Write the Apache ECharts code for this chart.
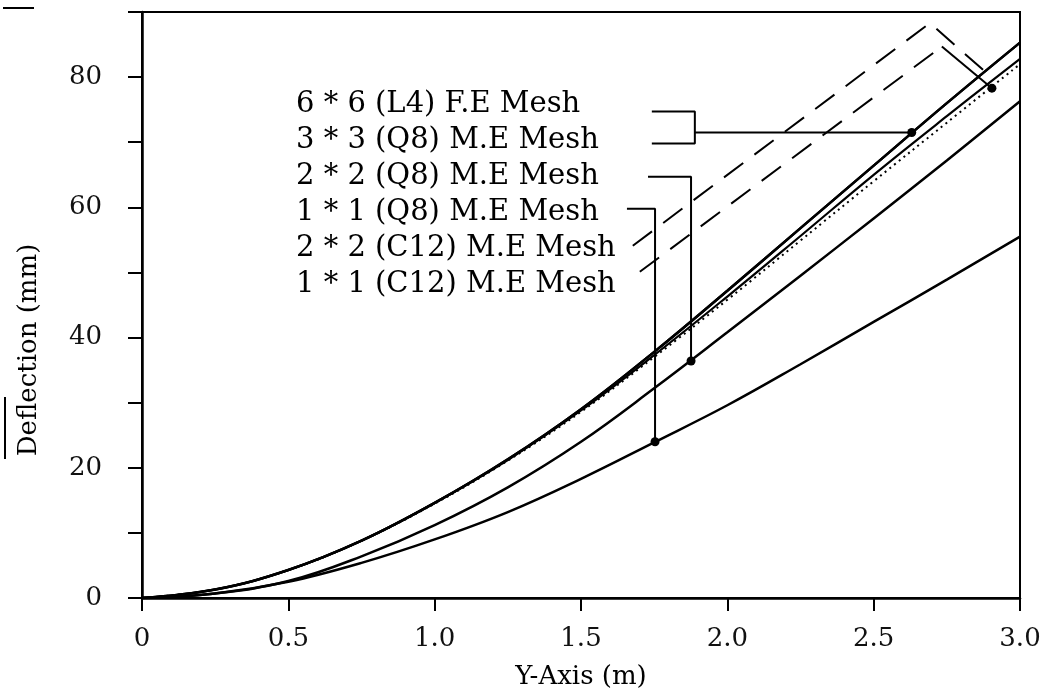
<!DOCTYPE html>
<html>
<head>
<meta charset="utf-8">
<script src="https://cdn.jsdelivr.net/npm/echarts@6/dist/echarts.min.js"></script>
<style>
html, body { margin: 0; padding: 0; background: #fff; }
#myChart { width: 1050px; height: 692px; }
</style>
</head>
<body>
<div id="myChart"></div>
<script>
// Y-Axis (m) sample positions
const yPos = [0, 0.25, 0.5, 0.75, 1.0, 1.25, 1.5, 1.75, 2.0, 2.25, 2.5, 2.75, 3.0];

// deflection (mm)
const fe66L4  = [0, 1.3, 4.3, 8.8, 14.6, 21.3, 29.0, 37.8, 47.2, 56.8, 66.4, 76.0, 85.3];
const me33Q8  = [0, 1.3, 4.3, 8.8, 14.6, 21.3, 29.0, 37.8, 47.2, 56.8, 66.4, 76.0, 85.3];
const me22Q8  = [0, 0.7, 2.6, 6.4, 11.2, 17.0, 24.0, 32.2, 40.8, 49.5, 58.3, 67.2, 76.3];
const me11Q8  = [0, 0.7, 2.5, 5.4, 9.0, 13.2, 18.3, 23.9, 29.6, 35.9, 42.4, 48.9, 55.5];
const me22C12 = [0, 1.3, 4.3, 8.8, 14.6, 21.2, 28.8, 37.3, 46.3, 55.6, 65.0, 74.0, 82.8];
const me11C12 = [0, 1.3, 4.3, 8.8, 14.5, 21.1, 28.6, 37.0, 45.8, 54.9, 64.0, 73.0, 82.0];

const seriesNames = [
  "6 * 6 (L4) F.E Mesh",
  "3 * 3 (Q8) M.E Mesh",
  "2 * 2 (Q8) M.E Mesh",
  "1 * 1 (Q8) M.E Mesh",
  "2 * 2 (C12) M.E Mesh",
  "1 * 1 (C12) M.E Mesh"
];

// tick labels
const xTickLabels = ["0", "0.5", "1.0", "1.5", "2.0", "2.5", "3.0"];
const yTickLabels = ["0", "", "20", "", "40", "", "60", "", "80", ""];

// leader lines from the labels to the curves (data units)
const bracket66   = [[1.742, 74.7], [1.889, 74.7], [1.889, 69.8], [1.742, 69.8]];
const leader66    = [[1.889, 71.5], [2.63, 71.5]];
const leader22Q8  = [[1.729, 64.7], [1.876, 64.7], [1.876, 36.4]];
const leader11Q8  = [[1.657, 59.8], [1.753, 59.8], [1.753, 24.0]];
const leader22C12 = [[1.677, 54.1], [2.692, 88.3], [2.887, 80.6]];
const leader11C12a = [[1.701, 50.1], [2.733, 84.7]];
const leader11C12b = [[2.733, 84.7], [2.904, 78.3]];

const FONT = "DejaVu Serif";

function pairs(xs, vals) {
  return xs.map((x, i) => [x, vals[i]]);
}

function curve(name, vals, type, width) {
  return {
    name: name,
    type: "line",
    data: pairs(yPos, vals),
    smooth: 0.4,
    symbol: "none",
    silent: true,
    z: 3,
    lineStyle: { color: "#000", width: width, type: type }
  };
}

function leader(id, pts, type, dot) {
  return {
    name: id,
    type: "line",
    data: pts.map((p, i) => {
      if (dot && i === pts.length - 1) {
        return { value: p, symbol: "circle", symbolSize: 9 };
      }
      return { value: p, symbol: "none" };
    }),
    showSymbol: true,
    silent: true,
    z: 4,
    itemStyle: { color: "#000" },
    lineStyle: { color: "#000", width: 2, type: type }
  };
}

let myChart = echarts.init(document.getElementById("myChart"));
myChart.setOption({
  animation: false,
  backgroundColor: "#fff",
  grid: {
    left: 142,
    right: 30,
    top: 12,
    bottom: 94,
    outerBoundsMode: "none",
    show: true,
    borderColor: "#000",
    borderWidth: 2
  },
  legend: {
    data: seriesNames,
    orient: "vertical",
    left: 290,
    top: 86,
    padding: 0,
    itemWidth: 0,
    itemHeight: 0,
    itemGap: 0,
    selectedMode: false,
    textStyle: { fontFamily: FONT, fontSize: 29, color: "#000", lineHeight: 36 }
  },
  xAxis: {
    type: "value",
    min: 0,
    max: 3,
    interval: 0.5,
    name: "Y-Axis (m)",
    nameLocation: "middle",
    nameGap: 66,
    nameTextStyle: { fontFamily: FONT, fontSize: 26, color: "#000" },
    axisLine: { lineStyle: { color: "#000", width: 2.5 } },
    axisTick: { length: 13, lineStyle: { color: "#000", width: 2 } },
    axisLabel: {
      margin: 28,
      fontFamily: FONT,
      fontSize: 26,
      color: "#111",
      formatter: v => xTickLabels[Math.round(v / 0.5)]
    },
    splitLine: { show: false }
  },
  yAxis: {
    type: "value",
    min: 0,
    max: 90,
    interval: 10,
    name: "Deflection (mm)",
    nameLocation: "middle",
    nameRotate: 90,
    nameGap: 100,
    nameTextStyle: { fontFamily: FONT, fontSize: 26, color: "#000", padding: [0, 90, 0, 0] },
    axisLine: { lineStyle: { color: "#000", width: 2.5 } },
    axisTick: { length: 14, lineStyle: { color: "#000", width: 2 } },
    axisLabel: {
      margin: 40,
      fontFamily: FONT,
      fontSize: 26,
      color: "#111",
      formatter: v => yTickLabels[Math.round(v / 10)]
    },
    splitLine: { show: false }
  },
  graphic: [
    // overline over the start of "Deflection"
    { type: "line", shape: { x1: 5, y1: 397, x2: 5, y2: 459 }, style: { stroke: "#000", lineWidth: 2 } },
    // scan mark top left
    { type: "line", shape: { x1: 3, y1: 8, x2: 34, y2: 8 }, style: { stroke: "#000", lineWidth: 2 } }
  ],
  series: [
    curve(seriesNames[0], fe66L4, "solid", 2.5),
    curve(seriesNames[1], me33Q8, "solid", 2.5),
    curve(seriesNames[2], me22Q8, "solid", 2.5),
    curve(seriesNames[3], me11Q8, "solid", 2.5),
    curve(seriesNames[4], me22C12, "solid", 2.2),
    curve(seriesNames[5], me11C12, [2, 4], 2),
    leader("bracket-66", bracket66, "solid", false),
    leader("leader-66", leader66, "solid", true),
    leader("leader-22q8", leader22Q8, "solid", true),
    leader("leader-11q8", leader11Q8, "solid", true),
    leader("leader-22c12", leader22C12, [24, 14], false),
    leader("leader-11c12a", leader11C12a, [24, 14], false),
    leader("leader-11c12b", leader11C12b, "solid", true)
  ]
});
</script>
</body>
</html>
